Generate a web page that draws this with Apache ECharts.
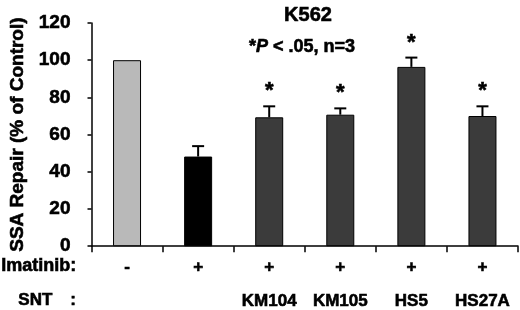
<!DOCTYPE html>
<html>
<head>
<meta charset="utf-8">
<script src="https://cdn.jsdelivr.net/npm/echarts@6/dist/echarts.min.js"></script>
<style>
  html, body { margin: 0; padding: 0; background: #fff; }
  #chart { width: 520px; height: 310px; }
</style>
</head>
<body>
<div id="chart"></div>
<script>
const FONT = '"Liberation Sans", Arial, sans-serif';

// data
const imatinib = ['-', '+', '+', '+', '+', '+'];
const snt = ['', '', 'KM104', 'KM105', 'HS5', 'HS27A'];
const repair = [100, 48.2, 69.3, 70.7, 96.4, 70.0];
const errors = [0, 5.6, 5.9, 3.4, 5.0, 5.2];
const significant = [false, false, true, true, true, true];
const barColors = ['#b9b9b9', '#000000', '#3b3b3b', '#3b3b3b', '#3b3b3b', '#3b3b3b'];
const yTicks = [0, 20, 40, 60, 80, 100, 120];

const chart = echarts.init(document.getElementById('chart'));

const errData = repair.map((v, i) => [i, v, errors[i], significant[i] ? 1 : 0]);

// thin outline to get the heavy look of the original lettering
const heavy = { textBorderColor: '#000', textBorderWidth: 0.6 };

chart.setOption({
  animation: false,
  textStyle: { fontFamily: FONT },
  title: [
    {
      text: 'K562',
      left: 303, top: 0, textAlign: 'center',
      textStyle: Object.assign({ fontSize: 20, fontWeight: 'bold', color: '#000', fontFamily: FONT }, heavy)
    },
    {
      text: '{s|*}{p|P}{s| < .05, n=3}',
      left: 297, top: 33, textAlign: 'center',
      textStyle: {
        rich: {
          s: Object.assign({ fontSize: 18, fontWeight: 'bold', color: '#000', fontFamily: FONT }, heavy),
          p: Object.assign({ fontSize: 18, fontWeight: 'bold', fontStyle: 'italic', color: '#000', fontFamily: FONT }, heavy)
        }
      }
    }
  ],
  grid: { left: 90, right: 2, top: 23, bottom: 63 },
  xAxis: {
    type: 'category',
    data: imatinib,
    axisLine: { lineStyle: { color: '#000', width: 1.5 } },
    axisTick: { show: true, length: 6, alignWithLabel: false, lineStyle: { color: '#000', width: 1.5 } },
    axisLabel: {
      interval: 0,
      margin: 4,
      formatter: (v, i) => '{a|' + imatinib[i] + '}\n{a|' + (snt[i] || ' ') + '}',
      rich: {
        a: Object.assign({ fontSize: 17, fontWeight: 'bold', color: '#000', lineHeight: 34, fontFamily: FONT }, heavy)
      }
    }
  },
  yAxis: {
    type: 'value',
    min: yTicks[0],
    max: yTicks[yTicks.length - 1],
    interval: 20,
    name: 'SSA Repair (% of Control)',
    nameLocation: 'middle',
    nameGap: 64,
    nameTextStyle: Object.assign({ fontSize: 19, fontWeight: 'bold', color: '#000', fontFamily: FONT }, heavy),
    splitLine: { show: false },
    axisLine: { show: true, lineStyle: { color: '#000', width: 1.5 } },
    axisTick: { show: true, length: 4, lineStyle: { color: '#000', width: 1.5 } },
    axisLabel: Object.assign({ fontSize: 19, fontWeight: 'bold', color: '#000', margin: 21, fontFamily: FONT }, heavy)
  },
  graphic: [
    { type: 'text', left: 1, top: 257, style: { text: 'Imatinib:', font: 'bold 18px ' + FONT, fill: '#000', stroke: '#000', lineWidth: 0.6 } },
    { type: 'text', left: 18, top: 292, style: { text: 'SNT', font: 'bold 17px ' + FONT, fill: '#000', stroke: '#000', lineWidth: 0.6 } },
    { type: 'text', left: 70, top: 292, style: { text: ':', font: 'bold 17px ' + FONT, fill: '#000', stroke: '#000', lineWidth: 0.6 } }
  ],
  series: [
    {
      type: 'bar',
      barWidth: 28,
      data: repair.map((v, i) => ({
        value: v,
        itemStyle: { color: barColors[i], borderColor: '#000', borderWidth: 1 }
      })),
      z: 2
    },
    {
      type: 'custom',
      data: errData,
      z: 3,
      renderItem: function (params, api) {
        const base = api.coord([api.value(0), api.value(1)]);
        const tip = api.coord([api.value(0), api.value(1) + api.value(2)]);
        const half = 6;
        const children = [];
        if (api.value(2) > 0) {
          children.push({
            type: 'line',
            shape: { x1: base[0], y1: base[1], x2: tip[0], y2: tip[1] },
            style: { stroke: '#000', lineWidth: 2 }
          });
          children.push({
            type: 'line',
            shape: { x1: tip[0] - half, y1: tip[1], x2: tip[0] + half, y2: tip[1] },
            style: { stroke: '#000', lineWidth: 2 }
          });
        }
        if (api.value(3)) {
          children.push({
            type: 'text',
            style: {
              text: '*', x: tip[0], y: tip[1] - 4,
              align: 'center', verticalAlign: 'bottom',
              font: 'bold 22px ' + FONT, fill: '#000', stroke: '#000', lineWidth: 0.6
            }
          });
        }
        return { type: 'group', children: children };
      }
    }
  ]
});
</script>
</body>
</html>
